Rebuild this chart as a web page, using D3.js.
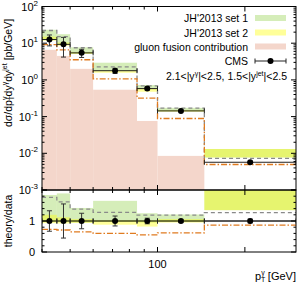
<!DOCTYPE html>
<html>
<head>
<meta charset="utf-8">
<script src="https://cdn.jsdelivr.net/npm/d3@7"></script>
<style>
  body { margin: 0; background: #fff; }
  text { font-family: "Liberation Sans", Arial, sans-serif; fill: #000; }
</style>
</head>
<body>
<div class="chart"></div>
<script>
// photon pT bins and CMS measurement
const binEdges = [40, 45, 50, 60, 85, 100, 145, 300];
const cmsValue = [12.6, 9.3, 5.45, 1.78, 0.58, 0.143, 0.0057];
const cmsRelErr = [0.33, 0.55, 0.25, 0.16, 0.09, 0.05, 0.06];
// gluon fusion contribution [pb/GeV]
const ggFusion = [6.6, 4.5, 2.0, 0.54, 0.076, 0.0085, 0.0004];
// theory / data
const set1Lo = [0.98, 0.97, 0.95, 0.98, 0.95, 0.98, 1.35];
const set1Hi = [1.84, 1.89, 1.42, 1.65, 1.25, 1.21, 2.3];
const set2Lo = [0.93, 0.92, 0.94, 0.88, 0.82, 0.95, 1.35];
const set2Hi = [1.2, 1.12, 1.06, 1.02, 1.02, 1.06, 2.3];
const dashedRatio = [1.76, 1.62, 1.38, 1.28, 1.19, 1.19, 1.27];
const dashDotRatio = [0.73, 0.71, 0.65, 0.6, 0.55, 0.62, 0.87];
const xTickMajor = [100, 200];
const xTickMinor = [40, 50, 60, 70, 80, 90];

const W = 300, H = 282;
const L = 42, R = 296, T = 6.5, M = 190, B = 252;
const green = "rgba(150,210,80,0.4)";
const yellow = "rgba(255,255,0,0.4)";
const pink = "#f4d6cb";
const orange = "#e07b20";

const svg = d3.select(".chart").append("svg").attr("width", W).attr("height", H);

const x = d3.scaleLog().domain([40, 300]).range([L, R]);
const yTop = d3.scaleLog().domain([1e-3, 1e2]).range([M, T]);
const yRat = d3.scaleLinear().domain([0, 2]).range([B, M]);

const bins = cmsValue.map((v, i) => ({ i, x0: binEdges[i], x1: binEdges[i + 1], v }));
const centre = d => Math.sqrt(d.x0 * d.x1);

svg.append("clipPath").attr("id", "clipTop").append("rect")
    .attr("x", L).attr("y", T).attr("width", R - L).attr("height", M - T);
svg.append("clipPath").attr("id", "clipRat").append("rect")
    .attr("x", L).attr("y", M).attr("width", R - L).attr("height", B - M);

function stepPoints(vals) {
    const pts = [];
    vals.forEach((v, i) => {
        pts.push([binEdges[i], v]);
        pts.push([binEdges[i + 1], v]);
    });
    return pts;
}

function drawPanel(g, y, scaleVal) {
    // scaleVal(i, ratio) -> value on this panel
    const band = (lo, hi, col) => g.append("g").selectAll("rect").data(bins).join("rect")
        .attr("x", d => x(d.x0)).attr("width", d => x(d.x1) - x(d.x0))
        .attr("y", d => y(scaleVal(d.i, hi[d.i])))
        .attr("height", d => y(scaleVal(d.i, lo[d.i])) - y(scaleVal(d.i, hi[d.i])))
        .attr("fill", col);
    band(set1Lo, set1Hi, green);
    band(set2Lo, set2Hi, yellow);

    const line = d3.line().x(p => x(p[0])).y(p => y(p[1]));
    g.append("path")
        .attr("d", line(stepPoints(dashedRatio.map((r, i) => scaleVal(i, r)))))
        .attr("fill", "none").attr("stroke", "#8a8a8a").attr("stroke-width", 1.3)
        .attr("stroke-dasharray", "4,3");
    g.append("path")
        .attr("d", line(stepPoints(dashDotRatio.map((r, i) => scaleVal(i, r)))))
        .attr("fill", "none").attr("stroke", orange).attr("stroke-width", 1.3)
        .attr("stroke-dasharray", "6,2,1.5,2");

    // CMS points
    const pts = g.append("g");
    bins.forEach(d => {
        const yc = y(scaleVal(d.i, 1));
        const yl = y(scaleVal(d.i, 1 - cmsRelErr[d.i]));
        const yh = y(scaleVal(d.i, 1 + cmsRelErr[d.i]));
        const xc = x(centre(d));
        pts.append("line").attr("x1", x(d.x0)).attr("x2", x(d.x1)).attr("y1", yc).attr("y2", yc)
            .attr("stroke", "#222").attr("stroke-width", 1);
        [d.x0, d.x1].forEach(e => pts.append("line").attr("x1", x(e)).attr("x2", x(e))
            .attr("y1", yc - 2.5).attr("y2", yc + 2.5).attr("stroke", "#222"));
        pts.append("line").attr("x1", xc).attr("x2", xc).attr("y1", yl).attr("y2", yh)
            .attr("stroke", "#333").attr("stroke-width", 1);
        [yl, yh].forEach(yy => pts.append("line").attr("x1", xc - 2.5).attr("x2", xc + 2.5)
            .attr("y1", yy).attr("y2", yy).attr("stroke", "#333"));
        pts.append("circle").attr("cx", xc).attr("cy", yc).attr("r", 3).attr("fill", "#000");
    });
}

// top panel
const gTop = svg.append("g").attr("clip-path", "url(#clipTop)");
gTop.append("g").selectAll("rect").data(bins).join("rect")
    .attr("x", d => x(d.x0)).attr("width", d => x(d.x1) - x(d.x0))
    .attr("y", d => yTop(Math.max(ggFusion[d.i], 1e-3)))
    .attr("height", d => M - yTop(Math.max(ggFusion[d.i], 1e-3)))
    .attr("fill", pink);
drawPanel(gTop, yTop, (i, r) => r * cmsValue[i]);

// ratio panel
const gRat = svg.append("g").attr("clip-path", "url(#clipRat)");
gRat.append("line").attr("x1", L).attr("x2", R).attr("y1", yRat(1)).attr("y2", yRat(1))
    .attr("stroke", "#222");
drawPanel(gRat, yRat, (i, r) => r);

// frames
const ax = svg.append("g").attr("stroke", "#000").attr("stroke-width", 1).attr("fill", "none");
ax.append("rect").attr("x", L).attr("y", T).attr("width", R - L).attr("height", M - T);
ax.append("rect").attr("x", L).attr("y", M).attr("width", R - L).attr("height", B - M);

// y ticks top panel (log)
for (let e = -3; e <= 2; e++) {
    const yy = yTop(Math.pow(10, e));
    ax.append("line").attr("x1", L).attr("x2", L + 5).attr("y1", yy).attr("y2", yy);
    ax.append("line").attr("x1", R).attr("x2", R - 5).attr("y1", yy).attr("y2", yy);
    if (e < 2) for (let k = 2; k <= 9; k++) {
        const ym = yTop(k * Math.pow(10, e));
        ax.append("line").attr("x1", L).attr("x2", L + 2.5).attr("y1", ym).attr("y2", ym);
        ax.append("line").attr("x1", R).attr("x2", R - 2.5).attr("y1", ym).attr("y2", ym);
    }
    const t = svg.append("text").attr("x", 38).attr("y", yy + 4).attr("text-anchor", "end")
        .attr("font-size", 11);
    t.append("tspan").text("10");
    t.append("tspan").attr("dy", -5).attr("font-size", 8).text(e);
}

// y ticks ratio panel
d3.range(0, 2.01, 0.2).forEach(v => {
    const yy = yRat(v);
    const len = Math.abs(v - Math.round(v)) < 1e-6 ? 5 : 2.5;
    ax.append("line").attr("x1", L).attr("x2", L + len).attr("y1", yy).attr("y2", yy);
    ax.append("line").attr("x1", R).attr("x2", R - len).attr("y1", yy).attr("y2", yy);
});
[0, 1].forEach(v => svg.append("text").attr("x", 35).attr("y", yRat(v) + 4)
    .attr("text-anchor", "end").attr("font-size", 11).text(v));

// x ticks
[[T, 1], [M, -1], [M, 1], [B, -1]].forEach(([y0, dir]) => {
    xTickMajor.forEach(v => ax.append("line").attr("x1", x(v)).attr("x2", x(v))
        .attr("y1", y0).attr("y2", y0 + dir * 5));
    xTickMinor.forEach(v => ax.append("line").attr("x1", x(v)).attr("x2", x(v))
        .attr("y1", y0).attr("y2", y0 + dir * 3));
});
svg.append("text").attr("x", x(100)).attr("y", 268).attr("text-anchor", "middle")
    .attr("font-size", 11).text("100");

// axis titles
const xt = svg.append("text").attr("x", R).attr("y", 280).attr("text-anchor", "end").attr("font-size", 11);
xt.append("tspan").text("p");
xt.append("tspan").attr("font-size", 7).attr("dy", 2).text("T");
xt.append("tspan").attr("font-size", 7).attr("dx", -4).attr("dy", -7).text("γ");
xt.append("tspan").attr("dy", 5).text("  [GeV]");

const yt = svg.append("text").attr("transform", "translate(12,73) rotate(-90)")
    .attr("text-anchor", "middle").attr("font-size", 10.5);
yt.append("tspan").text("dσ/dp");
yt.append("tspan").attr("font-size", 7).attr("dy", 2).text("T");
yt.append("tspan").attr("font-size", 7).attr("dx", -4).attr("dy", -7).text("γ");
yt.append("tspan").attr("dy", 5).text("dy");
yt.append("tspan").attr("font-size", 7).attr("dy", -5).text("γ");
yt.append("tspan").attr("dy", 5).text("dy");
yt.append("tspan").attr("font-size", 7).attr("dy", -5).text("jet");
yt.append("tspan").attr("dy", 5).text(" [pb/GeV]");

svg.append("text").attr("transform", "translate(12,221) rotate(-90)")
    .attr("text-anchor", "middle").attr("font-size", 10.5).text("theory/data");

// legend
const lg = svg.append("g");
const legendRows = [
    { label: "JH'2013 set 1", fill: green, y: 18 },
    { label: "JH'2013 set 2", fill: yellow, y: 32.5 },
    { label: "gluon fusion contribution", fill: pink, y: 46.5 },
    { label: "CMS", fill: null, y: 61 }
];
legendRows.forEach(r => {
    lg.append("text").attr("x", 248).attr("y", r.y + 4).attr("text-anchor", "end")
        .attr("font-size", 10.5).text(r.label);
    if (r.fill) {
        lg.append("rect").attr("x", 255).attr("y", r.y - 3).attr("width", 31).attr("height", 6)
            .attr("fill", r.fill);
    } else {
        lg.append("line").attr("x1", 255).attr("x2", 286).attr("y1", r.y).attr("y2", r.y).attr("stroke", "#222");
        [255, 286].forEach(xx => lg.append("line").attr("x1", xx).attr("x2", xx)
            .attr("y1", r.y - 2.5).attr("y2", r.y + 2.5).attr("stroke", "#222"));
        lg.append("circle").attr("cx", 270.5).attr("cy", r.y).attr("r", 3);
    }
});
const sel = lg.append("text").attr("x", 287).attr("y", 80).attr("text-anchor", "end").attr("font-size", 10.5);
sel.append("tspan").text("2.1<|y");
sel.append("tspan").attr("font-size", 7).attr("dy", -4).text("γ");
sel.append("tspan").attr("dy", 4).text("|<2.5, 1.5<|y");
sel.append("tspan").attr("font-size", 7).attr("dy", -4).text("jet");
sel.append("tspan").attr("dy", 4).text("|<2.5");
</script>
</body>
</html>
